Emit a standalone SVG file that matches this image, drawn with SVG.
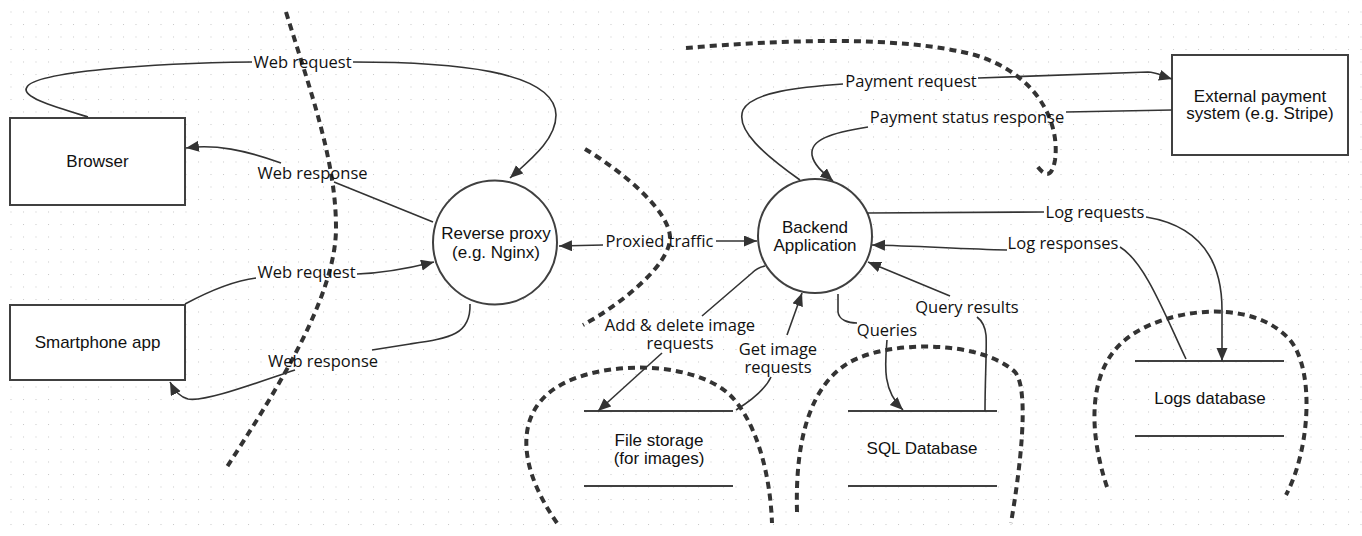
<svg xmlns="http://www.w3.org/2000/svg" width="1362" height="536" viewBox="0 0 1362 536">
<style>
.node{fill:#fff;stroke:#404040;stroke-width:2}
.store{fill:none;stroke:#404040;stroke-width:2}
.nt{font-family:"Liberation Sans",Arial,sans-serif;font-size:17px;fill:#111;text-anchor:middle}
.lt{font-family:"Open Sans","Noto Sans",sans-serif;font-size:16.5px;fill:#111;text-anchor:middle}
.c{fill:none;stroke:#333;stroke-width:1.6}
.ce{fill:none;stroke:#333;stroke-width:1.6;marker-end:url(#arr)}
.b{fill:none;stroke:#333;stroke-width:4;stroke-dasharray:7 5}
</style>
<defs>
<pattern id="grid" width="12.5" height="12.5" patternUnits="userSpaceOnUse" x="10.5" y="11.5">
<rect width="1" height="1" fill="#c8c8c8"/>
</pattern>
<marker id="arr" markerUnits="userSpaceOnUse" markerWidth="14" markerHeight="12" refX="13" refY="5.5" orient="auto-start-reverse">
<path d="M0,0 L13,5.5 L0,11 z" fill="#333"/>
</marker>
</defs>
<rect width="1362" height="536" fill="#fff"/>
<rect width="1362" height="536" fill="url(#grid)"/>

<g id="boundaries">
<path class="b" d="M286,12 C310,90 336,160 336,228 C336,300 270,400 225,470"/>
<path class="b" d="M585,149 C620,170 670,210 670,238 C670,265 620,305 583,325"/>
<path class="b" d="M686,48 C780,40 900,35 975,55 C1040,75 1060,125 1055,160 C1052,178 1045,178 1035,163"/>
<path class="b" d="M557,523 C520,470 515,420 550,392 C590,360 690,358 730,395 C755,420 770,470 772,523"/>
<path class="b" d="M797,512 C795,440 810,385 850,362 C890,340 980,340 1015,372 C1030,390 1020,470 1011,523"/>
<path class="b" d="M1107,487 C1088,430 1088,370 1125,340 C1160,310 1250,295 1290,340 C1315,370 1310,450 1286,495"/>
</g>

<g id="browser">
<rect class="node" x="10" y="118" width="175" height="87"/>
<text class="nt" x="97.5" y="167">Browser</text>
</g>
<g id="smartphone">
<rect class="node" x="10" y="305" width="175" height="75"/>
<text class="nt" x="97.5" y="348">Smartphone app</text>
</g>
<g id="reverse-proxy">
<circle class="node" cx="495" cy="242.5" r="62"/>
<text class="nt" x="496" y="239">Reverse proxy<tspan x="496" dy="19">(e.g. Nginx)</tspan></text>
</g>
<g id="backend">
<circle class="node" cx="815" cy="236" r="57"/>
<text class="nt" x="815" y="233">Backend<tspan x="815" dy="18">Application</tspan></text>
</g>
<g id="payment">
<rect class="node" x="1172" y="55" width="176" height="100"/>
<text class="nt" x="1260" y="102">External payment<tspan x="1260" dy="17">system (e.g. Stripe)</tspan></text>
</g>
<g id="file-storage">
<path class="store" d="M584,411 H733 M584,486 H733"/>
<text class="nt" x="659" y="446">File storage<tspan x="659" dy="18">(for images)</tspan></text>
</g>
<g id="sql-db">
<path class="store" d="M848,411 H997 M848,486 H997"/>
<text class="nt" x="922" y="454">SQL Database</text>
</g>
<g id="logs-db">
<path class="store" d="M1135,361 H1284 M1135,436 H1284"/>
<text class="nt" x="1210" y="404">Logs database</text>
</g>

<g id="connectors">
<g id="c-browser-req">
<path class="c" d="M88,117 C55,107 20,97 27,87 C35,72 150,63 252,62"/>
<path class="ce" d="M353,62 C450,62 555,70 556,115 C556,140 530,160 510,178"/>
<text class="lt" x="302.5" y="68">Web request</text>
</g>
<g id="c-browser-resp">
<path class="c" d="M433,222 L334,182"/>
<path class="ce" d="M281,163 C245,150 215,144 186,148"/>
<text class="lt" x="312.5" y="179">Web response</text>
</g>
<g id="c-phone-req">
<path class="c" d="M185,304 C215,288 240,280 256,278"/>
<path class="ce" d="M357,274 C385,273 410,268 434,262"/>
<text class="lt" x="306.5" y="278">Web request</text>
</g>
<g id="c-phone-resp">
<path class="c" d="M470,304 C471,335 450,338 410,344 L372,350"/>
<path class="ce" d="M295,370 C250,385 205,402 188,399 C180,397 174,390 170,382"/>
<text class="lt" x="323" y="367">Web response</text>
</g>
<g id="c-proxied">
<path class="c" style="marker-start:url(#arr)" d="M559,246 L603,245"/>
<path class="ce" d="M716,241 L757,241"/>
<text class="lt" x="659.5" y="247">Proxied traffic</text>
</g>
<g id="c-pay-req">
<path class="c" d="M800,180 C765,155 735,130 743,110 C752,92 800,87 843,84"/>
<path class="ce" d="M978,78 L1148,72 C1156,72 1162,76 1172,79"/>
<text class="lt" x="911" y="87">Payment request</text>
</g>
<g id="c-pay-resp">
<path class="c" d="M1172,110 L1066,112"/>
<path class="ce" d="M868,127 C830,133 810,140 812,155 C814,166 825,174 833,181"/>
<text class="lt" x="967" y="123">Payment status response</text>
</g>
<g id="c-log-req">
<path class="c" d="M867,213 L1044,212"/>
<path class="ce" d="M1146,217 C1195,225 1222,255 1222,310 L1222,361"/>
<text class="lt" x="1095" y="218">Log requests</text>
</g>
<g id="c-log-resp">
<path class="c" d="M1186,359 C1165,315 1145,262 1120,247"/>
<path class="ce" d="M1007,250 C960,249 920,246 872,245"/>
<text class="lt" x="1063" y="249">Log responses</text>
</g>
<g id="c-query-res">
<path class="c" d="M985,411 C985,380 987,345 986,335 C985,326 981,320 977,317"/>
<path class="ce" d="M950,296 L868,262"/>
<text class="lt" x="967" y="313">Query results</text>
</g>
<g id="c-queries">
<path class="c" d="M838,294 L838,312 C839,320 848,323 857,323"/>
<path class="ce" d="M887,340 C885,365 882,390 903,410"/>
<text class="lt" x="887" y="336">Queries</text>
</g>
<g id="c-add-del">
<path class="c" d="M765,266 C760,267 757,268 752,273 L702,316"/>
<path class="ce" d="M662,353 L598,411"/>
<text class="lt" x="680" y="331">Add &amp; delete image<tspan x="680" dy="18">requests</tspan></text>
</g>
<g id="c-get-img">
<path class="c" d="M736,410 C752,400 765,390 771,377"/>
<path class="ce" d="M787,335 L802,293"/>
<text class="lt" x="778" y="355">Get image<tspan x="778" dy="18">requests</tspan></text>
</g>
</g>
</svg>
